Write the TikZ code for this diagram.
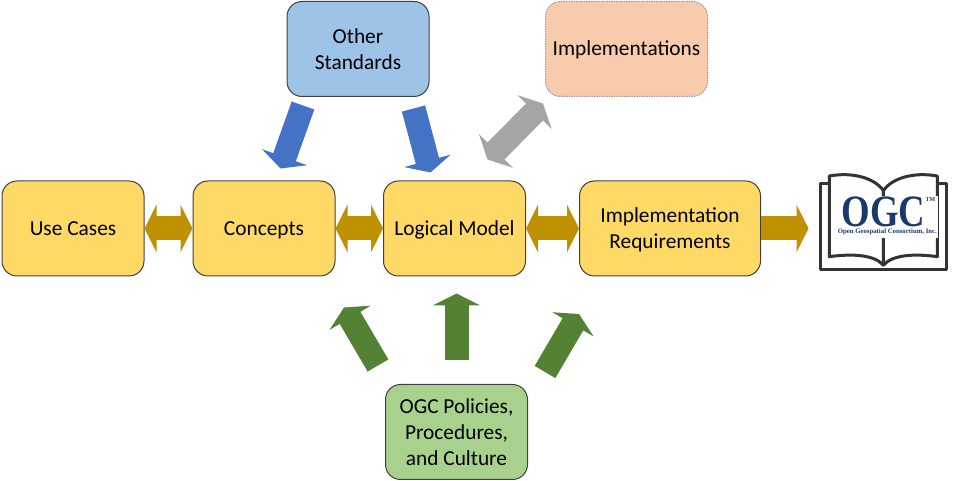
\documentclass[tikz,border=0pt]{standalone}
\usepackage{fontspec}
\setmainfont{Carlito}
\newfontfamily\logofont{Liberation Serif}
\usetikzlibrary{positioning}
\usetikzlibrary{arrows.meta}
\definecolor{boxyellow}{HTML}{FFD966}
\definecolor{boxblue}{HTML}{9DC3E6}
\definecolor{boxorange}{HTML}{F8CBAD}
\definecolor{boxgreen}{HTML}{A9D18E}
\definecolor{arrowgold}{HTML}{BF9000}
\definecolor{arrowblue}{HTML}{4472C4}
\definecolor{arrowgreen}{HTML}{548235}
\definecolor{arrowgrey}{HTML}{A5A5A5}
\definecolor{ogcnavy}{HTML}{1B3A6B}
\definecolor{bookline}{HTML}{333333}
\begin{document}
\begin{tikzpicture}[
			node distance=3.59cm,
			>={Triangle[length=0.24cm,width=0.95cm]},
			stage/.style={rectangle, rounded corners=0.3cm, minimum width=2.84cm, minimum height=1.9cm, text centered, align=center, draw=black!75, line width=0.02cm, fill=boxyellow, font=\fontsize{12.15}{14.7}\selectfont},
			oneline/.style={stage, text height=10.5pt, text depth=3pt},
			source/.style={stage, fill=boxblue},
			policy/.style={stage, fill=boxgreen},
			impl/.style={oneline, fill=boxorange, minimum width=3.24cm, draw=black!40, dash pattern=on 0.03cm off 0.02cm},
			block/.style={line width=0.48cm},
			]
			\useasboundingbox (0,0) rectangle (19.42,-9.62);
			
			\node[oneline]       (usecases) at (1.46,-4.57)                                   {Use Cases};
			\node[oneline]       (concepts) [right=0.96cm of usecases]                        {Concepts};
			\node[oneline]       (logical)  [right=0.95cm of concepts]                        {Logical Model};
			\node[stage, minimum width=3.62cm] (implreq) [right=1.06cm of logical]            {\strut Implementation\\Requirements};
			\node[source]        (other)    [above of=logical, xshift=-1.93cm]                {Other\\Standards};
			\node[impl]          (impls)    [above of=logical, xshift=3.44cm]                 {Implementations};
			\node[policy]        (policies) [below of=logical, xshift=0.04cm, yshift=-0.48cm] {OGC Policies,\\Procedures,\\and Culture};
			
			\coordinate (other_l)    at (6.06,-2.11);
			\coordinate (concepts_t) at (5.61,-3.37);
			\coordinate (other_r)    at (8.27,-2.17);
			\coordinate (logical_t)  at (8.61,-3.45);
			\coordinate (impls_b)    at (10.86,-2.07);
			\coordinate (logical_r)  at (9.75,-3.19);
			\coordinate (pol_l)      at (7.56,-7.31);
			\coordinate (concepts_b) at (6.88,-6.15);
			\coordinate (pol_m)      at (9.13,-7.20);
			\coordinate (logical_b)  at (9.13,-5.87);
			\coordinate (pol_r)      at (10.90,-7.44);
			\coordinate (implreq_b)  at (11.58,-6.28);
			\coordinate (book)       at (16.17,-4.57);
			
			\draw [block, arrowgold, <->] (usecases) -- (concepts);
			\draw [block, arrowgold, <->] (concepts) -- (logical);
			\draw [block, arrowgold, <->] (logical)  -- (implreq);
			\draw [block, arrowgold, ->]  (implreq)  -- (book);
			\draw [block, arrowblue, ->]  (other_l)  -- (concepts_t);
			\draw [block, arrowblue, ->]  (other_r)  -- (logical_t);
			\draw [block, arrowgrey, <->] (impls_b)  -- (logical_r);
			\draw [block, arrowgreen, ->] (pol_l)    -- (concepts_b);
			\draw [block, arrowgreen, ->] (pol_m)    -- (logical_b);
			\draw [block, arrowgreen, ->] (pol_r)    -- (implreq_b);
			
			% book with the logo on it
			\begin{scope}[shift={(16,-3.2)}, x=0.00667cm, y=-0.00667cm]
				\draw [bookline, line width=0.06cm, line join=round]
				(88,70) -- (60,70) -- (60,328) -- (440,328) -- (440,70) -- (412,70);
				\draw [bookline, line width=0.06cm, line join=round]
				(250,92) .. controls (225,55) and (160,35) .. (88,48) -- (88,290)
				.. controls (160,280) and (225,285) .. (250,316)
				.. controls (275,285) and (340,280) .. (412,290) -- (412,48)
				.. controls (340,35) and (275,55) .. (250,92) -- (250,316);
				\fill [white] (113,108) rectangle (415,235);
				\node [ogcnavy, inner sep=0pt, xscale=0.82, transform shape] (ogc) at (250,157) {\logofont\bfseries\fontsize{25.5}{25.5}\selectfont OGC};
				\node [ogcnavy, inner sep=0pt] (tm) at (391,120) {\logofont\bfseries\fontsize{3.4}{3.4}\selectfont TM};
				\node [ogcnavy, inner sep=0pt] (ogcname) at (262,216) {\logofont\bfseries\fontsize{3.85}{3.85}\selectfont Open Geospatial Consortium, Inc.};
			\end{scope}
			
\end{tikzpicture}
\end{document}
